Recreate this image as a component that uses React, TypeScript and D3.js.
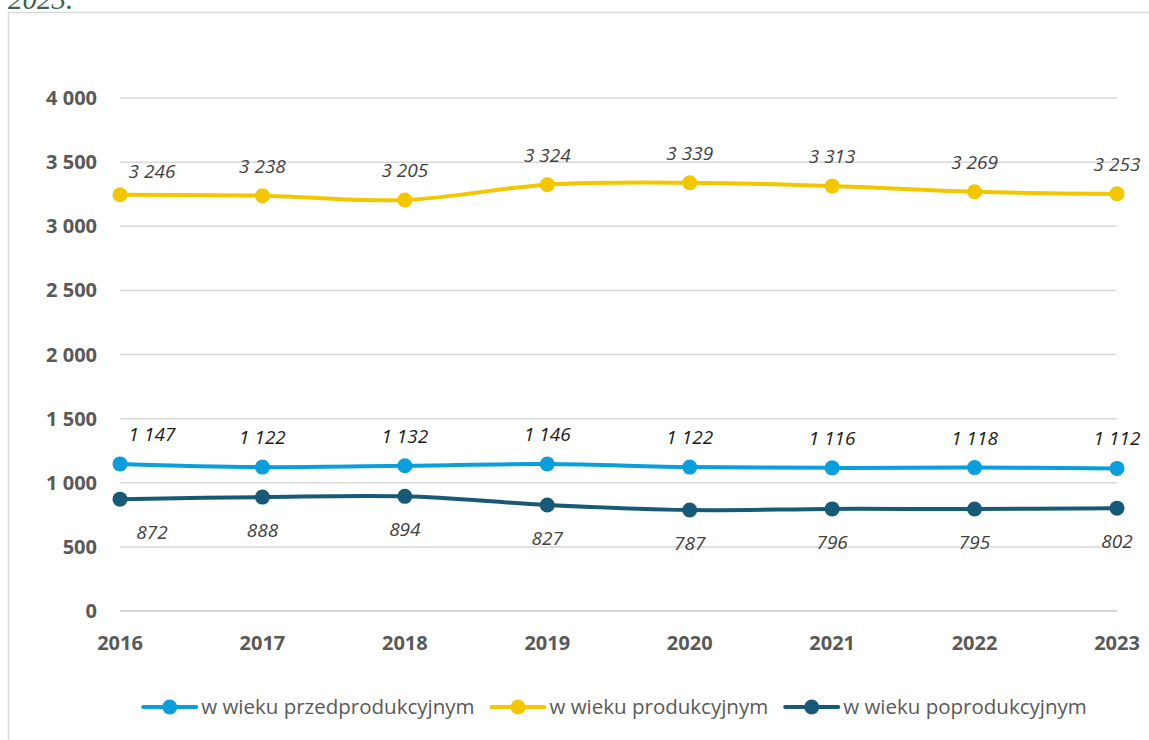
import React, { useEffect, useRef } from "react";
import * as d3 from "d3";

const years = ["2016", "2017", "2018", "2019", "2020", "2021", "2022", "2023"];
const przed = [1147, 1122, 1132, 1146, 1122, 1116, 1118, 1112];
const prod = [3246, 3238, 3205, 3324, 3339, 3313, 3269, 3253];
const poprod = [872, 888, 894, 827, 787, 796, 795, 802];
const yTicks = [0, 500, 1000, 1500, 2000, 2500, 3000, 3500, 4000];

const seriesNames = ["w wieku przedprodukcyjnym", "w wieku produkcyjnym", "w wieku poprodukcyjnym"];
const seriesColors = ["#0a9fdc", "#f2c700", "#175a77"];
const labelColors = ["#1a1a1a", "#404040", "#404040"];

const width = 1149;
const height = 740;

const fmt = (v: number) => d3.format(",")(v).replace(/,/g, " ");

function drawChart(node: SVGSVGElement) {
  const svg = d3.select(node);
  svg.selectAll("*").remove();

  svg.append("rect").attr("width", width).attr("height", height).attr("fill", "#fff");

  // piece of caption above, cut off by the top edge
  svg.append("text")
    .attr("x", 8).attr("y", 9)
    .attr("font-family", "Liberation Serif").attr("font-style", "italic")
    .attr("font-size", 29).attr("fill", "#3f5f4f")
    .text("2023.");

  // outer frame
  svg.append("rect")
    .attr("x", 8.5).attr("y", 12.5)
    .attr("width", width + 10).attr("height", height + 10)
    .attr("fill", "none").attr("stroke", "#d9d9d9").attr("stroke-width", 1.5);

  const x = d3.scalePoint<string>().domain(years).range([120, 1117]);
  const y = d3.scaleLinear().domain([0, 4000]).range([611, 98]);

  // gridlines
  svg.append("g").selectAll("line").data(yTicks).enter().append("line")
    .attr("x1", 120).attr("x2", 1117)
    .attr("y1", (d) => y(d)).attr("y2", (d) => y(d))
    .attr("stroke", (d) => (d === 0 ? "#c8c8c8" : "#d9d9d9")).attr("stroke-width", 1.5);

  // y tick labels
  svg.append("g").selectAll("text").data(yTicks).enter().append("text")
    .attr("x", 97).attr("y", (d) => y(d)).attr("dy", "0.35em")
    .attr("text-anchor", "end")
    .attr("font-family", "Open Sans").attr("font-weight", "bold").attr("font-size", 20)
    .attr("fill", "#595959")
    .text((d) => fmt(d));

  // x tick labels
  svg.append("g").selectAll("text").data(years).enter().append("text")
    .attr("x", (d) => x(d)!).attr("y", 650)
    .attr("text-anchor", "middle")
    .attr("font-family", "Open Sans").attr("font-weight", "bold").attr("font-size", 20)
    .attr("fill", "#595959")
    .text((d) => d);

  const allSeries = [przed, prod, poprod];
  const line = d3.line<number>()
    .x((d, i) => x(years[i])!)
    .y((d) => y(d))
    .curve(d3.curveCatmullRom.alpha(0.5));

  // lines and markers
  allSeries.forEach((vals, s) => {
    const g = svg.append("g");
    g.append("path").datum(vals)
      .attr("d", line).attr("fill", "none")
      .attr("stroke", seriesColors[s]).attr("stroke-width", 4)
      .attr("stroke-linecap", "round");
    g.selectAll("circle").data(vals).enter().append("circle")
      .attr("cx", (d, i) => x(years[i])!).attr("cy", (d) => y(d))
      .attr("r", 7.5).attr("fill", seriesColors[s]);
  });

  // data labels: above for first two series, below for the last
  allSeries.forEach((vals, s) => {
    const below = s === 2;
    svg.append("g").selectAll("text").data(vals).enter().append("text")
      .attr("x", (d, i) => x(years[i])! + (i === 0 ? 32 : 0))
      .attr("y", (d, i) => (below ? y(d) + 40 : y(d) - (s === 1 && i === 0 ? 17 : 23)))
      .attr("text-anchor", "middle")
      .attr("font-family", "Open Sans").attr("font-style", "italic").attr("font-size", 19)
      .attr("fill", labelColors[s])
      .text((d) => fmt(d));
  });

  // legend
  const legend = svg.append("g");
  const items = seriesNames.map((name, s) => {
    const g = legend.append("g");
    g.append("line").attr("x1", 0).attr("x2", 53).attr("y1", 0).attr("y2", 0)
      .attr("stroke", seriesColors[s]).attr("stroke-width", 4).attr("stroke-linecap", "round");
    g.append("circle").attr("cx", 26.5).attr("cy", 0).attr("r", 7.5).attr("fill", seriesColors[s]);
    const t = g.append("text").attr("x", 58).attr("y", 0).attr("dy", "0.35em")
      .attr("font-family", "Open Sans").attr("font-size", 20.5).attr("fill", "#595959")
      .text(name);
    const w = 58 + (t.node() as SVGTextElement).getComputedTextLength();
    return { g, w };
  });
  const gap = 17;
  const total = d3.sum(items, (d) => d.w) + gap * (items.length - 1);
  let cx = 615 - total / 2;
  items.forEach((it) => {
    it.g.attr("transform", `translate(${cx},707)`);
    cx += it.w + gap;
  });
}

export default function App() {
  const ref = useRef<SVGSVGElement>(null);
  useEffect(() => {
    if (ref.current) drawChart(ref.current);
  }, []);
  return (
    <div style={{ position: "absolute", left: 0, top: 0 }}>
      <svg ref={ref} width={width} height={height} style={{ display: "block" }} />
    </div>
  );
}
